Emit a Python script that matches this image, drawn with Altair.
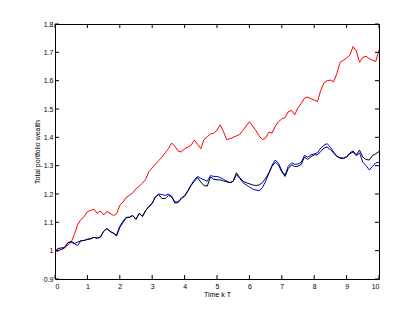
import altair as alt
import pandas as pd

# Time grid (k T)
time = [i / 10 for i in range(101)]

red = [1.000, 0.998, 1.005, 1.012, 1.020, 1.030, 1.058, 1.092, 1.110, 1.120,
       1.138, 1.142, 1.146, 1.132, 1.140, 1.126, 1.138, 1.132, 1.124, 1.130,
       1.160, 1.172, 1.188, 1.196, 1.204, 1.218, 1.228, 1.238, 1.252, 1.280,
       1.292, 1.305, 1.318, 1.330, 1.345, 1.360, 1.380, 1.368, 1.352, 1.348,
       1.360, 1.365, 1.372, 1.390, 1.375, 1.360, 1.392, 1.402, 1.412, 1.415,
       1.425, 1.444, 1.420, 1.392, 1.395, 1.400, 1.405, 1.410, 1.425, 1.440,
       1.455, 1.440, 1.424, 1.405, 1.392, 1.398, 1.418, 1.415, 1.440, 1.455,
       1.465, 1.470, 1.490, 1.495, 1.480, 1.505, 1.520, 1.538, 1.542, 1.536,
       1.532, 1.526, 1.565, 1.592, 1.600, 1.602, 1.596, 1.625, 1.665, 1.672,
       1.680, 1.690, 1.720, 1.705, 1.665, 1.682, 1.686, 1.678, 1.672, 1.668,
       1.708]

blue = [0.995, 1.008, 1.010, 1.012, 1.028, 1.030, 1.024, 1.018, 1.035, 1.036,
        1.040, 1.042, 1.047, 1.044, 1.048, 1.068, 1.078, 1.068, 1.062, 1.055,
        1.086, 1.104, 1.118, 1.118, 1.124, 1.112, 1.132, 1.122, 1.142, 1.157,
        1.168, 1.190, 1.200, 1.198, 1.195, 1.200, 1.192, 1.172, 1.172, 1.186,
        1.194, 1.212, 1.232, 1.250, 1.262, 1.255, 1.250, 1.245, 1.265, 1.262,
        1.262, 1.258, 1.252, 1.246, 1.240, 1.245, 1.268, 1.255, 1.240, 1.232,
        1.225, 1.218, 1.214, 1.212, 1.222, 1.245, 1.272, 1.302, 1.320, 1.308,
        1.282, 1.266, 1.298, 1.310, 1.305, 1.306, 1.312, 1.336, 1.330, 1.338,
        1.342, 1.345, 1.362, 1.372, 1.378, 1.365, 1.348, 1.334, 1.326, 1.325,
        1.330, 1.342, 1.348, 1.335, 1.345, 1.312, 1.300, 1.285, 1.298, 1.310,
        1.312]

black = [0.995, 1.008, 1.004, 1.010, 1.028, 1.032, 1.026, 1.030, 1.035, 1.036,
         1.040, 1.042, 1.047, 1.044, 1.048, 1.068, 1.078, 1.068, 1.062, 1.052,
         1.082, 1.100, 1.116, 1.118, 1.124, 1.110, 1.132, 1.120, 1.142, 1.155,
         1.166, 1.190, 1.198, 1.184, 1.184, 1.195, 1.190, 1.168, 1.170, 1.184,
         1.192, 1.210, 1.230, 1.245, 1.258, 1.242, 1.230, 1.228, 1.260, 1.252,
         1.250, 1.250, 1.246, 1.243, 1.240, 1.245, 1.275, 1.258, 1.245, 1.240,
         1.236, 1.232, 1.230, 1.232, 1.240, 1.255, 1.275, 1.298, 1.312, 1.302,
         1.278, 1.262, 1.290, 1.303, 1.297, 1.298, 1.305, 1.330, 1.322, 1.332,
         1.338, 1.338, 1.350, 1.362, 1.366, 1.356, 1.345, 1.332, 1.328, 1.327,
         1.332, 1.345, 1.352, 1.338, 1.355, 1.330, 1.322, 1.320, 1.336, 1.342,
         1.350]

x_ticks = [0, 1, 2, 3, 4, 5, 6, 7, 8, 9, 10]
y_ticks = [0.9, 1.0, 1.1, 1.2, 1.3, 1.4, 1.5, 1.6, 1.7, 1.8]

W, H = 324, 255
FONT = "Liberation Sans"

xs = alt.Scale(domain=[0, 10], nice=False, zero=False)
ys = alt.Scale(domain=[0.9, 1.8], nice=False, zero=False)

xaxis = alt.Axis(values=x_ticks, title="Time k T", ticks=False, domain=False,
                 grid=False, labelPadding=3, labelFontSize=7, labelFont=FONT,
                 titleFontSize=7, titleFont=FONT, titleFontWeight="normal",
                 titleY=15, titleBaseline="middle", labelColor="black",
                 titleColor="black")
yaxis = alt.Axis(values=y_ticks, title="Total portfolio wealth", format="~g",
                 ticks=False, domain=False, grid=False, labelPadding=2,
                 labelFontSize=7, labelFont=FONT, titleFontSize=7,
                 titleFont=FONT, titleFontWeight="normal", titleX=-18,
                 titleY=H / 2, titleAngle=-90, titleBaseline="middle",
                 labelColor="black", titleColor="black")


def series(vals, color):
    df = pd.DataFrame({"t": time, "w": vals})
    return alt.Chart(df).mark_line(color=color, strokeWidth=1).encode(
        x=alt.X("t:Q", scale=xs, axis=xaxis),
        y=alt.Y("w:Q", scale=ys, axis=yaxis),
    )


xt = pd.DataFrame({"t": x_ticks})
yt = pd.DataFrame({"w": y_ticks})

tick_b = alt.Chart(xt).mark_rule(color="black", strokeWidth=1).encode(
    x=alt.X("t:Q", scale=xs, axis=xaxis), y=alt.value(H), y2=alt.value(H - 4))
tick_t = alt.Chart(xt).mark_rule(color="black", strokeWidth=1).encode(
    x=alt.X("t:Q", scale=xs, axis=xaxis), y=alt.value(0), y2=alt.value(4))
tick_l = alt.Chart(yt).mark_rule(color="black", strokeWidth=1).encode(
    y=alt.Y("w:Q", scale=ys, axis=yaxis), x=alt.value(0), x2=alt.value(4))
tick_r = alt.Chart(yt).mark_rule(color="black", strokeWidth=1).encode(
    y=alt.Y("w:Q", scale=ys, axis=yaxis), x=alt.value(W), x2=alt.value(W - 4))

chart = alt.layer(
    series(red, "#ff0000"),
    series(blue, "#0000ff"),
    series(black, "#000000"),
    tick_b, tick_t, tick_l, tick_r,
).properties(
    width=W, height=H,
    autosize=alt.AutoSizeParams(type="none"),
    padding={"left": 55, "top": 24, "right": 41, "bottom": 35},
    background="white",
).configure_view(stroke="black", strokeWidth=1)

chart.save("out.html", embed_options={"renderer": "svg", "actions": False})
